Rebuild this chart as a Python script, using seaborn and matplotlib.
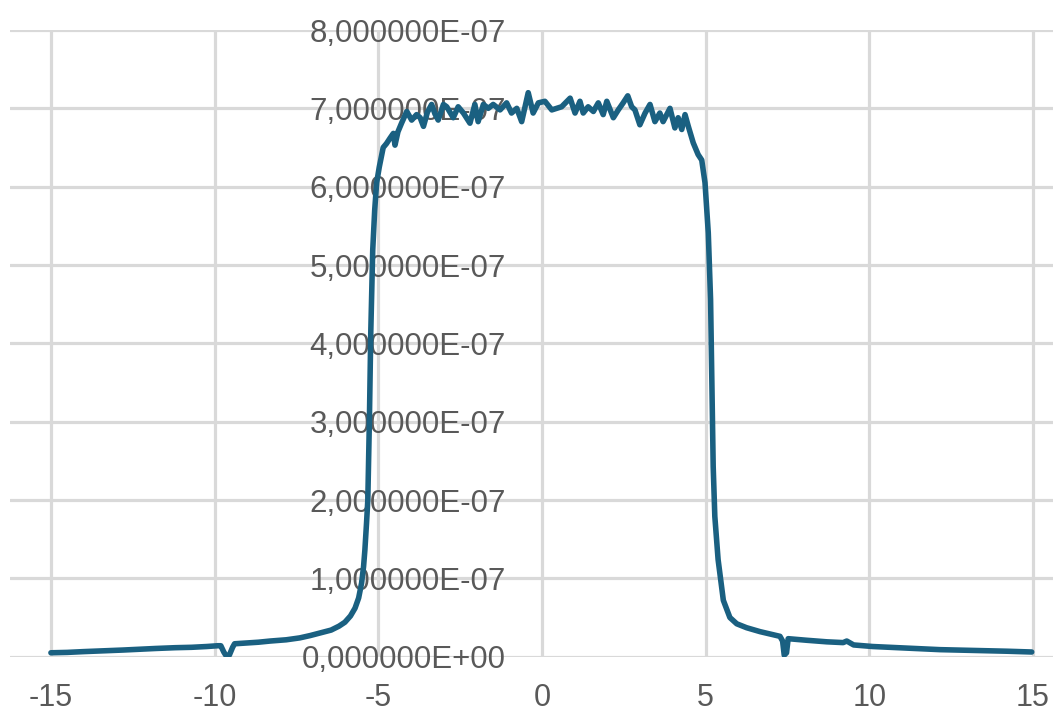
import matplotlib
matplotlib.use("Agg")
import matplotlib.pyplot as plt
import matplotlib.ticker as mticker
import seaborn as sns
import numpy as np

# position (x) and signal values (in units of 1e-7)
x_pos = [
    -15.0, -14.5, -14.0, -13.4, -12.8, -12.3, -11.8, -11.2, -10.7, -10.24,
    -9.9, -9.81, -9.72, -9.66, -9.55, -9.45, -9.39, -9.0, -8.66, -8.3,
    -7.81, -7.4, -7.08, -6.8, -6.6, -6.44, -6.2, -6.02, -5.85, -5.71,
    -5.6, -5.51, -5.45, -5.41, -5.36, -5.32, -5.27, -5.23, -5.17, -5.11,
    -5.05, -4.97, -4.85, -4.75, -4.64, -4.54, -4.49, -4.4, -4.29, -4.13,
    -3.98, -3.83, -3.72, -3.62, -3.5, -3.37, -3.27, -3.17, -3.01, -2.91,
    -2.81, -2.71, -2.56, -2.4, -2.2, -2.05, -1.95, -1.79, -1.64, -1.49,
    -1.28, -1.08, -0.93, -0.77, -0.62, -0.42, -0.27, -0.11, 0.09, 0.3,
    0.45, 0.6, 0.86, 1.01, 1.16, 1.26, 1.41, 1.57, 1.72, 1.87,
    1.98, 2.18, 2.33, 2.48, 2.62, 2.74, 2.84, 2.99, 3.15, 3.3,
    3.45, 3.6, 3.7, 3.91, 4.06, 4.16, 4.27, 4.37, 4.47, 4.62,
    4.77, 4.88, 4.98, 5.08, 5.15, 5.19, 5.23, 5.28, 5.38, 5.54,
    5.74, 5.95, 6.25, 6.66, 7.07, 7.27, 7.35, 7.4, 7.47, 7.52,
    8.08, 8.7, 9.2, 9.31, 9.52, 10.1, 10.6, 11.14, 11.6, 12.16,
    12.7, 13.17, 13.7, 14.2, 14.6, 14.96,
]
signal_e7 = [
    0.05, 0.055, 0.065, 0.075, 0.085, 0.095, 0.105, 0.115, 0.12, 0.13,
    0.14, 0.14, 0.06, 0.02, 0.02, 0.12, 0.165, 0.175, 0.185, 0.2,
    0.216, 0.24, 0.27, 0.3, 0.32, 0.34, 0.39, 0.44, 0.52, 0.62,
    0.75, 0.94, 1.15, 1.36, 1.7, 2.0, 3.06, 4.13, 5.19, 5.7,
    6.05, 6.25, 6.5, 6.55, 6.62, 6.68, 6.53, 6.7, 6.81, 6.96,
    6.85, 6.92, 6.88, 6.77, 6.95, 7.05, 6.93, 6.85, 7.05, 7.02,
    6.95, 6.88, 7.02, 6.94, 6.81, 7.05, 6.83, 7.05, 7.0, 7.05,
    6.98, 7.07, 6.94, 7.0, 6.83, 7.2, 6.94, 7.07, 7.09, 6.98,
    7.0, 7.02, 7.13, 6.94, 7.09, 6.94, 7.02, 6.96, 7.07, 6.92,
    7.09, 6.88, 6.98, 7.07, 7.16, 7.02, 6.98, 6.79, 6.94, 7.05,
    6.83, 6.94, 6.83, 7.0, 6.75, 6.88, 6.73, 6.92, 6.77, 6.56,
    6.41, 6.34, 6.05, 5.41, 4.56, 3.49, 2.43, 1.79, 1.24, 0.72,
    0.5, 0.42, 0.37, 0.32, 0.28, 0.26, 0.2, 0.02, 0.05, 0.23,
    0.21, 0.19, 0.18, 0.2, 0.15, 0.13, 0.12, 0.11, 0.1, 0.09,
    0.085, 0.08, 0.075, 0.07, 0.065, 0.06,
]
x_ticks = [-15, -10, -5, 0, 5, 10, 15]
y_ticks_e7 = [0, 1, 2, 3, 4, 5, 6, 7, 8]

sns.set_theme(style="white")
plt.rcParams["font.family"] = ["Liberation Sans", "DejaVu Sans"]

fig = plt.figure(figsize=(10.53, 7.15), dpi=100)
ax = fig.add_axes([10 / 1053, (715 - 656.7) / 715, 1 - 10 / 1053, (656.7 - 30) / 715])

y_vals = np.array(signal_e7) * 1e-7
sns.lineplot(x=x_pos, y=y_vals, ax=ax, color="#1a6081", linewidth=4,
             solid_joinstyle="round", solid_capstyle="round", zorder=3)

ax.set_xlim(-16.25, 15.61)
ax.set_ylim(0, 8e-7)
ax.set_xticks(x_ticks)
ax.set_yticks([v * 1e-7 for v in y_ticks_e7])
ax.yaxis.set_major_formatter(mticker.FuncFormatter(lambda v, p: f"{v:.6E}".replace(".", ",")))
ax.xaxis.set_major_formatter(mticker.FuncFormatter(lambda v, p: f"{v:.0f}"))

ax.grid(True, color="#d9d9d9", linewidth=2.3)
ax.set_axisbelow(True)
for s in ax.spines.values():
    s.set_visible(False)
ax.spines["left"].set_position(("data", 0))

ax.tick_params(axis="y", length=0, pad=26, labelsize=22.5, labelcolor="#595959")
ax.tick_params(axis="x", length=0, pad=19, labelsize=22, labelcolor="#595959")
ax.set_xlabel("")
ax.set_ylabel("")

fig.savefig("out.png", dpi=100)
